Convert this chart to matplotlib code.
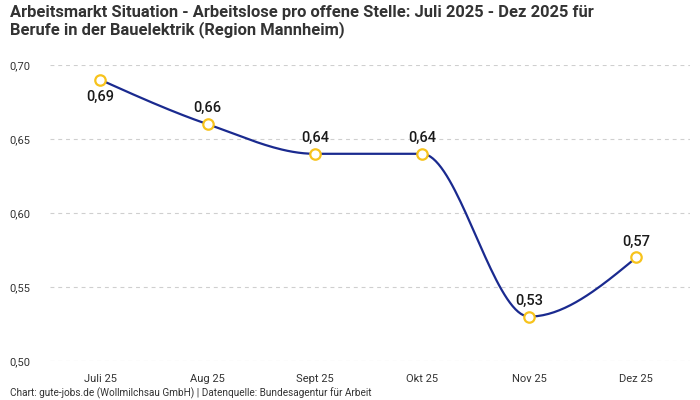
import matplotlib
matplotlib.use("Agg")
import matplotlib.pyplot as plt
import numpy as np

categories = ["Juli 25", "Aug 25", "Sept 25", "Okt 25", "Nov 25", "Dez 25"]
values = [0.69, 0.66, 0.64, 0.64, 0.53, 0.57]
value_labels = ["0,69", "0,66", "0,64", "0,64", "0,53", "0,57"]
yticks = [0.50, 0.55, 0.60, 0.65, 0.70]
ytick_labels = ["0,50", "0,55", "0,60", "0,65", "0,70"]
label_below = [True, False, False, False, False, False]

plt.rcParams['font.family'] = ['Roboto', 'DejaVu Sans']


def monotone_curve(x, y, n=40):
    x = np.asarray(x, float)
    y = np.asarray(y, float)
    h = np.diff(x)
    s = np.diff(y) / h
    m = np.zeros_like(y)
    for i in range(1, len(y) - 1):
        if s[i - 1] * s[i] <= 0:
            m[i] = 0.0
        else:
            p = (s[i - 1] * h[i] + s[i] * h[i - 1]) / (h[i - 1] + h[i])
            m[i] = (np.sign(s[i - 1]) + np.sign(s[i])) * min(abs(s[i - 1]), abs(s[i]), 0.5 * abs(p))
    m[0] = (3 * s[0] - m[1]) / 2
    m[-1] = (3 * s[-1] - m[-2]) / 2
    xs, ys = [], []
    for i in range(len(x) - 1):
        t = np.linspace(0, 1, n)
        h00 = 2 * t**3 - 3 * t**2 + 1
        h10 = t**3 - 2 * t**2 + t
        h01 = -2 * t**3 + 3 * t**2
        h11 = t**3 - t**2
        xs.append(x[i] + t * h[i])
        ys.append(h00 * y[i] + h10 * h[i] * m[i] + h01 * y[i + 1] + h11 * h[i] * m[i + 1])
    return np.concatenate(xs), np.concatenate(ys)


fig = plt.figure(figsize=(7, 4), dpi=100)
ax = fig.add_axes([50 / 700, 39 / 400, 640 / 700, 296 / 400])

xpos = np.arange(len(categories))
cx, cy = monotone_curve(xpos, values)
ax.plot(cx, cy, color="#1a2a8f", lw=1.6, zorder=3)
ax.plot(xpos, values, linestyle="none", marker="o", markersize=7.5,
        markerfacecolor="white", markeredgecolor="#f7c31c", markeredgewidth=1.6, zorder=4)

for xi, v, lab, below in zip(xpos, values, value_labels, label_below):
    ax.annotate(lab, (xi, v), xytext=(0, -12 if below else 11.5), textcoords="offset points",
                ha="center", va="center", fontsize=10.5, fontweight="medium",
                color="#1a1a1a", zorder=5)

ax.set_xlim(-0.47, 5.5)
ax.set_ylim(0.50, 0.70)
ax.set_yticks(yticks)
ax.set_yticklabels(ytick_labels)
ax.set_xticks(xpos)
ax.set_xticklabels(categories)
ax.tick_params(axis="both", length=0, labelsize=8, colors="#333333")
ax.tick_params(axis="x", pad=9)
ax.tick_params(axis="y", pad=29)
for lab in ax.get_yticklabels():
    lab.set_horizontalalignment("left")
ax.grid(axis="y", linestyle=(0, (3.5, 3.5)), color="#cfcfcf", lw=0.8)
ax.grid(axis="x", visible=False)
for sp in ax.spines.values():
    sp.set_visible(False)
ax.set_axisbelow(True)
ax.patch.set_alpha(0)

fig.text(10 / 700, 1 - 12 / 400, "Arbeitsmarkt Situation - Arbeitslose pro offene Stelle: Juli 2025 - Dez 2025 für",
         ha="left", va="center", fontsize=11.9, fontweight="bold", color="#333333")
fig.text(10 / 700, 1 - 30 / 400, "Berufe in der Bauelektrik (Region Mannheim)",
         ha="left", va="center", fontsize=11.9, fontweight="bold", color="#333333")
fig.text(10 / 700, 1 - 393 / 400,
         "Chart: gute-jobs.de (Wollmilchsau GmbH) | Datenquelle: Bundesagentur für Arbeit",
         ha="left", va="center", fontsize=7.2, color="#333333")

fig.savefig("out.png", dpi=100)
